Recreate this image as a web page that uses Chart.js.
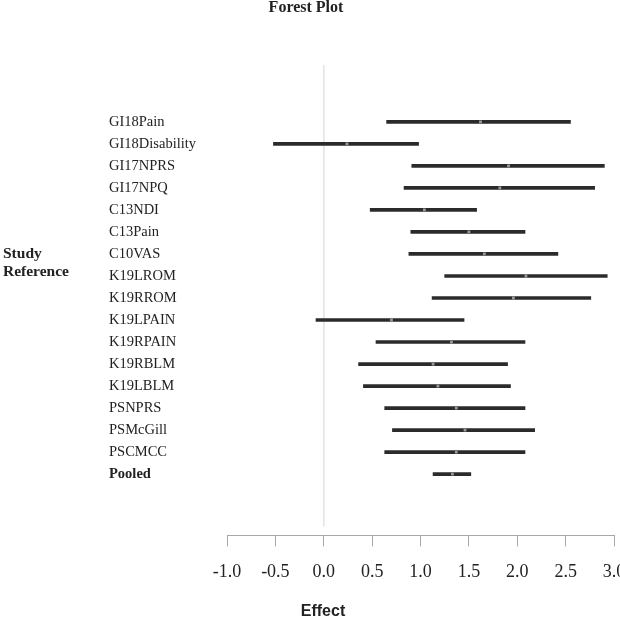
<!DOCTYPE html>
<html>
<head>
<meta charset="utf-8">
<script src="https://cdn.jsdelivr.net/npm/chart.js@4.4.1/dist/chart.umd.min.js"></script>
<style>
  html, body { margin: 0; padding: 0; background: #fff; }
  #wrap { width: 620px; height: 619px; }
</style>
</head>
<body>
<div id="wrap"><canvas id="forest"></canvas></div>
<script>
const chartTitle = "Forest Plot";
const studies = ["GI18Pain", "GI18Disability", "GI17NPRS", "GI17NPQ", "C13NDI", "C13Pain", "C10VAS",
  "K19LROM", "K19RROM", "K19LPAIN", "K19RPAIN", "K19RBLM", "K19LBLM", "PSNPRS", "PSMcGill", "PSCMCC", "Pooled"];
const effect = [1.62, 0.24, 1.91, 1.82, 1.04, 1.50, 1.66, 2.09, 1.96, 0.70, 1.32, 1.13, 1.18, 1.37, 1.46, 1.37, 1.33];
const lower = [0.65, -0.52, 0.91, 0.83, 0.48, 0.90, 0.88, 1.25, 1.12, -0.08, 0.54, 0.36, 0.41, 0.63, 0.71, 0.63, 1.13];
const upper = [2.55, 0.98, 2.90, 2.80, 1.58, 2.08, 2.42, 2.93, 2.76, 1.45, 2.08, 1.90, 1.93, 2.08, 2.18, 2.08, 1.52];
const xTicks = [-1.0, -0.5, 0.0, 0.5, 1.0, 1.5, 2.0, 2.5, 3.0];

const serif = '"Liberation Serif", "Times New Roman", serif';

// extra labels drawn straight on the canvas (title, y label, x label)
const extraText = {
  id: 'extraText',
  afterDraw(chart) {
    const ctx = chart.ctx;
    ctx.save();
    ctx.fillStyle = '#222';
    ctx.textBaseline = 'middle';
    ctx.textAlign = 'center';
    ctx.font = 'bold 16px ' + serif;
    ctx.fillText(chartTitle, 306, 8);
    ctx.textAlign = 'left';
    ctx.font = 'bold 15.5px ' + serif;
    ctx.fillText('Study', 3, 254);
    ctx.fillText('Reference', 3, 272);
    ctx.textAlign = 'center';
    ctx.font = 'bold 16px "Liberation Sans", Arial, sans-serif';
    ctx.fillText('Effect', 323, 612);
    ctx.restore();
  }
};

new Chart(document.getElementById('forest'), {
  type: 'bar',
  data: {
    datasets: [
      {
        type: 'scatter',
        label: 'Effect',
        data: studies.map((s, i) => ({ x: effect[i], y: i })),
        pointStyle: 'rect',
        pointRadius: 2,
        backgroundColor: '#9a9a9a',
        borderWidth: 0,
        order: 0
      },
      {
        label: 'CI',
        data: studies.map((s, i) => ({ x: [lower[i], upper[i]], y: i })),
        backgroundColor: '#2b2b2b',
        borderWidth: 0,
        barThickness: 3,
        order: 1
      },
      {
        type: 'line',
        label: 'zero',
        data: [{ x: 0, y: -2.58 }, { x: 0, y: 18.37 }],
        borderColor: '#e4e4e4',
        borderWidth: 1,
        pointRadius: 0,
        order: 2
      }
    ]
  },
  options: {
    indexAxis: 'y',
    responsive: true,
    maintainAspectRatio: false,
    animation: false,
    layout: { padding: { left: 109, top: 65, right: 6, bottom: 21 } },
    plugins: {
      legend: { display: false },
      title: { display: false },
      tooltip: { enabled: false }
    },
    scales: {
      x: {
        type: 'linear',
        min: -1,
        max: 3,
        afterBuildTicks: axis => { axis.ticks = xTicks.map(v => ({ value: v })); },
        afterFit: axis => { axis.paddingLeft = 0; axis.paddingRight = 0; },
        grid: { drawOnChartArea: false, drawTicks: true, tickLength: 11, color: '#a8a8a8' },
        border: { display: true, color: '#a8a8a8' },
        ticks: {
          padding: 15,
          color: '#222',
          font: { family: serif, size: 18 },
          callback: v => v.toFixed(1)
        }
      },
      y: {
        type: 'linear',
        reverse: true,
        offset: false,
        min: -2.58,
        max: 18.78,
        afterBuildTicks: axis => { axis.ticks = studies.map((s, i) => ({ value: i })); },
        afterFit: axis => { axis.width = 118; },
        grid: { display: false, drawTicks: false },
        border: { display: false },
        ticks: {
          crossAlign: 'far',
          padding: 24,
          color: '#222',
          font: ctx => ({ family: serif, size: 14.5, weight: ctx.index === studies.length - 1 ? 'bold' : 'normal' }),
          callback: v => studies[v]
        }
      }
    }
  },
  plugins: [extraText]
});
</script>
</body>
</html>
